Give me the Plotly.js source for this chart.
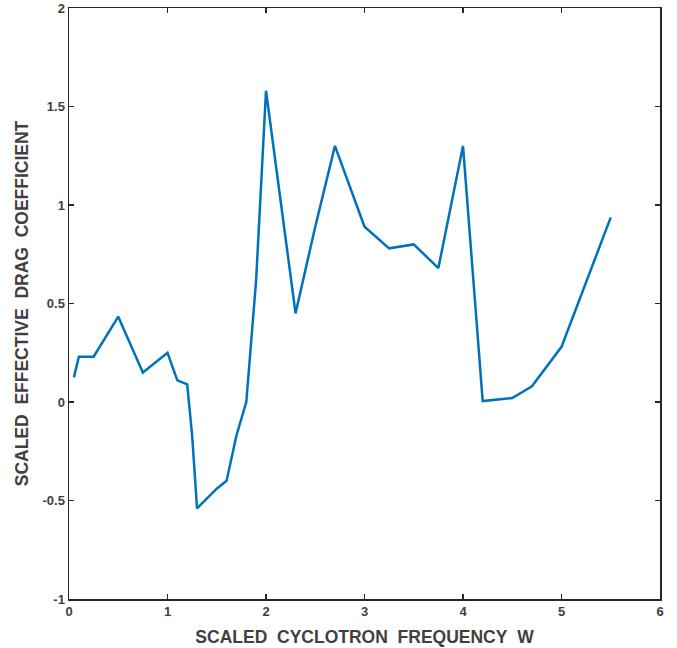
<!DOCTYPE html>
<html>
<head>
<meta charset="utf-8">
<script src="https://cdn.plot.ly/plotly-3.0.1.min.js"></script>
<style>
  html, body { margin: 0; padding: 0; background: #ffffff; }
  #chart { width: 677px; height: 648px; }
</style>
</head>
<body>
<div id="chart"></div>
<script>
// Scaled cyclotron frequency W
const frequency = [0.05, 0.1, 0.25, 0.5, 0.75, 1.0, 1.1, 1.2, 1.25, 1.3, 1.5, 1.6, 1.7, 1.8, 1.9, 2.0,
                   2.3, 2.5, 2.7, 3.0, 3.25, 3.5, 3.75, 4.0, 4.2, 4.5, 4.7, 5.0, 5.5];
// Scaled effective drag coefficient
const dragCoeff = [0.125, 0.23, 0.23, 0.433, 0.15, 0.25, 0.11, 0.09, -0.17, -0.54, -0.44, -0.40, -0.17, 0.0, 0.62, 1.58,
                   0.45, 0.89, 1.30, 0.89, 0.78, 0.80, 0.68, 1.30, 0.005, 0.02, 0.08, 0.28, 0.937];

const xTicks = [0, 1, 2, 3, 4, 5, 6];
const yTicks = [-1, -0.5, 0, 0.5, 1, 1.5, 2];

const sp = '\u00a0\u00a0';
const xTitle = ['SCALED', 'CYCLOTRON', 'FREQUENCY', 'W'].join(sp);
const yTitle = ['SCALED', 'EFFECTIVE', 'DRAG', 'COEFFICIENT'].join(sp);

const textColor = '#404040';
const axisColor = '#262626';
const fontFamily = '"Liberation Sans", Arial, Helvetica, sans-serif';

const axisCommon = {
  showgrid: false,
  zeroline: false,
  showline: true,
  linecolor: axisColor,
  linewidth: 1.5,
  mirror: 'ticks',
  ticks: 'inside',
  ticklen: 5,
  tickwidth: 1.5,
  tickcolor: axisColor,
  tickfont: { family: fontFamily, size: 13, color: textColor, weight: 'bold' }
};

const trace = {
  x: frequency,
  y: dragCoeff,
  type: 'scatter',
  mode: 'lines',
  line: { color: '#0072BD', width: 2.5 },
  hoverinfo: 'skip'
};

const layout = {
  width: 677,
  height: 648,
  margin: { l: 69, r: 17, t: 8, b: 49 },
  paper_bgcolor: '#ffffff',
  plot_bgcolor: '#ffffff',
  showlegend: false,
  font: { family: fontFamily, color: textColor },
  xaxis: Object.assign({}, axisCommon, {
    range: [0, 6],
    tickvals: xTicks,
    ticktext: xTicks.map(String),
    title: { text: xTitle, font: { family: fontFamily, size: 17.5, color: textColor, weight: 'bold' }, standoff: 12 }
  }),
  yaxis: Object.assign({}, axisCommon, {
    range: [-1, 2],
    tickvals: yTicks,
    ticktext: yTicks.map(String),
    title: { text: yTitle, font: { family: fontFamily, size: 17.5, color: textColor, weight: 'bold' }, standoff: 9 }
  })
};

Plotly.newPlot('chart', [trace], layout, { displayModeBar: false, staticPlot: true });
</script>
</body>
</html>
